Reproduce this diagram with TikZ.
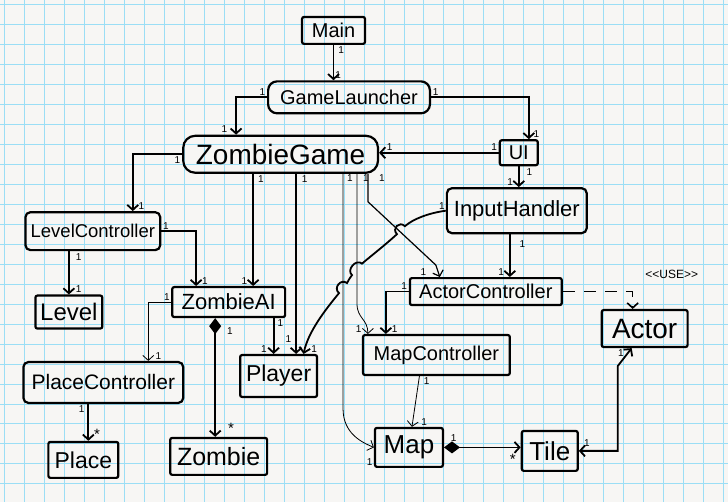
\documentclass[tikz,border=0pt]{standalone}
\usepackage{fontspec}
\setmainfont{Liberation Sans}
\usepackage{tikz}
\usetikzlibrary{positioning, arrows.meta}

\definecolor{gridblue}{RGB}{155,222,245}
\definecolor{paper}{RGB}{247,246,244}

\begin{document}
\begin{tikzpicture}[x=1pt, y=-1pt,
    > = {Straight Barb[length=5pt,width=11pt]},
    cls/.style = {draw, line width=2.2pt, inner sep=0pt, rounded corners=2pt},
    assoc/.style = {->, line width=1.8pt},
    thinassoc/.style = {->, line width=0.8pt},
    comp/.style = {{Diamond[length=16pt,width=12pt]}->, line width=1.8pt},
    mult/.style = {font=\fontsize{10}{12}\selectfont, inner sep=1pt},
    many/.style = {font=\fontsize{15}{15}\selectfont, inner sep=0pt}]

  % squared paper
  \fill[paper] (0,0) rectangle (728,502);
  \foreach \gx in {4,24,...,724}
    \draw[gridblue, line width=0.9pt] (\gx,0) -- (\gx,502);
  \foreach \gy in {4,24,...,484}
    \draw[gridblue, line width=0.9pt] (0,\gy) -- (728,\gy);
  \useasboundingbox (0,0) rectangle (728,502);

  % classes
  \node[cls, minimum width=63pt, minimum height=27pt, font=\fontsize{20}{24}\selectfont] (main) at (333.5,30) {Main};
  \node[cls, rounded corners=9pt, minimum width=162pt, minimum height=32pt, font=\fontsize{20}{24}\selectfont] (gl) at (349,97) {GameLauncher};
  \node[cls, rounded corners=12pt, minimum width=195pt, minimum height=37pt, font=\fontsize{28}{32}\selectfont] (zg) at (280.5,154) {ZombieGame};
  \node[cls, minimum width=38pt, minimum height=25pt, font=\fontsize{20}{24}\selectfont] (ui) at (519,152.5) {UI};
  \node[cls, rounded corners=5pt, minimum width=140pt, minimum height=45pt, font=\fontsize{22}{26}\selectfont] (ih) at (517,210.5) {InputHandler};
  \node[cls, rounded corners=5pt, minimum width=135pt, minimum height=38pt, font=\fontsize{18.5}{22}\selectfont] (lc) at (92.5,231) {LevelController};
  \node[cls, minimum width=67pt, minimum height=33pt, font=\fontsize{24}{28}\selectfont] (lvl) at (68.5,312) {Level};
  \node[cls, minimum width=113pt, minimum height=30pt, font=\fontsize{22}{26}\selectfont] (zai) at (228.5,302) {ZombieAI};
  \node[cls, minimum width=152pt, minimum height=27pt, font=\fontsize{20}{24}\selectfont] (ac) at (486,291.5) {ActorController};
  \node[cls, minimum width=86pt, minimum height=37pt, font=\fontsize{28}{32}\selectfont] (actor) at (645,328.5) {Actor};
  \node[cls, minimum width=147pt, minimum height=40pt, font=\fontsize{20}{24}\selectfont] (mc) at (436.5,355) {MapController};
  \node[cls, minimum width=77pt, minimum height=42pt, font=\fontsize{23}{27}\selectfont] (pl) at (278.5,376) {Player};
  \node[cls, rounded corners=5pt, minimum width=160pt, minimum height=41pt, font=\fontsize{21}{25}\selectfont] (pc) at (103,382.5) {PlaceController};
  \node[cls, minimum width=70pt, minimum height=36pt, font=\fontsize{23}{27}\selectfont] (place) at (83,460) {Place};
  \node[cls, minimum width=97pt, minimum height=37pt, font=\fontsize{25}{29}\selectfont] (zombie) at (218.5,456.5) {Zombie};
  \node[cls, minimum width=68pt, minimum height=39pt, font=\fontsize{26}{30}\selectfont] (map) at (409,447.5) {Map};
  \node[cls, minimum width=56pt, minimum height=40pt, font=\fontsize{26}{30}\selectfont] (tile) at (550,451) {Tile};

  % associations
  \draw[assoc] (main.south) -- (main.south |- gl.north)
    node[mult, at start, anchor=north west, xshift=3pt] (m1) {1}
    node[mult, at end, anchor=south west] (m2) {1};
  \draw[assoc] (gl.west) -| ([xshift=54pt]zg.north west)
    node[mult, at start, anchor=south east] (m3) {1}
    node[mult, at end, anchor=south east, xshift=-7pt] (m4) {1};
  \draw[assoc] (gl.east) -| ([xshift=10pt]ui.north)
    node[mult, at start, anchor=south west] (m5) {1}
    node[mult, at end, anchor=south west, xshift=3pt] (m6) {1};
  \draw[assoc] (ui.west) -- (ui.west -| zg.east)
    node[mult, at start, anchor=south east] (m7) {1}
    node[mult, at end, anchor=south west, xshift=6pt] (m8) {1};
  \draw[assoc] (ui.south) -- (ui.south |- ih.north)
    node[mult, at start, anchor=north west, xshift=6pt] (m9) {1}
    node[mult, at end, anchor=south east, xshift=-4pt] (m10) {1};
  \draw[assoc] (zg.west) -| ([xshift=40pt]lc.north)
    node[mult, at start, anchor=north east] (m11) {1}
    node[mult, at end, anchor=south west, xshift=4pt] (m12) {1};
  \draw[assoc] (lc.south -| lvl.north) -- (lvl.north)
    node[mult, at start, anchor=north west, xshift=5pt] (m13) {1}
    node[mult, at end, anchor=south west, xshift=5pt] (m14) {1};
  \draw[assoc] (lc.east) -| ([xshift=25pt]zai.north west)
    node[mult, at start, anchor=south west] (m15) {1}
    node[mult, at end, anchor=south west, xshift=4pt] (m16) {1};
  \draw[assoc] ([xshift=-27.5pt]zg.south) -- ([xshift=24.5pt]zai.north)
    node[mult, at start, anchor=north west, xshift=3pt] (m17) {1}
    node[mult, at end, anchor=south east, xshift=-4pt] (m18) {1};
  \draw[assoc] ([xshift=15.5pt]zg.south) -- ([xshift=17.5pt]pl.north)
    node[mult, at start, anchor=north west, xshift=4pt] (m19) {1}
    node[mult, at end, anchor=south east, xshift=-3pt, yshift=10pt] (m20) {1};
  \draw[assoc] ([xshift=45pt]zai.south) -- ([xshift=-5pt]pl.north)
    node[mult, at start, anchor=north west, xshift=2pt] (m21) {1}
    node[mult, at end, anchor=south east, xshift=-5pt] (m22) {1};
  % hops where it crosses the lines out of ZombieGame
  \draw[assoc] (ih.west) .. controls (428,213) and (413,219) .. (405,226)
    .. controls (399.4,220.4) and (391.4,228.4) .. (397,234)
    .. controls (385,245) and (372,255) .. (362,263.5)
    .. controls (356,258.3) and (346,269.8) .. (352,275)
    .. controls (349,279) and (348,281) .. (347,283)
    .. controls (340.8,278) and (332.8,288) .. (339,293)
    .. controls (325,310) and (308,332) .. ([xshift=25pt]pl.north)
    node[mult, at end, anchor=south west, xshift=6pt] (m24) {1};
  \node[mult, anchor=south east] (m23) at (ih.west) {1};
  \draw[thinassoc] ([xshift=62.5pt]zg.south) -- ++(0,235)
    .. controls +(0,25) and +(-12,-5) .. (map.west)
    node[mult, at end, anchor=north east, yshift=-10pt] (m26) {1};
  \node[mult, anchor=north west, xshift=3pt] (m25) at ([xshift=62.5pt]zg.south) {1};
  \draw[thinassoc] ([xshift=76.5pt]zg.south) -- ++(0,130)
    .. controls +(0,15) and +(0,-15) .. ([xshift=6pt]mc.north west)
    node[mult, at end, anchor=south east, xshift=-5pt] (m28) {1};
  \node[mult, anchor=north west, xshift=5pt] (m27) at ([xshift=76.5pt]zg.south) {1};
  \draw[assoc, line width=1.2pt] ([xshift=87.5pt]zg.south) -- ++(0,28)
    -- ([xshift=27pt, yshift=12pt]ac.north west) -- ([xshift=31pt]ac.north west)
    node[mult, at end, anchor=south east, xshift=-12pt] (m30) {1};
  \node[mult, anchor=north west, xshift=10pt] (m29) at ([xshift=87.5pt]zg.south) {1};
  \draw[assoc] ([xshift=-7pt]ih.south) -- ([xshift=24pt]ac.north)
    node[mult, at start, anchor=north west, xshift=8pt, yshift=-4pt] (m31) {1}
    node[mult, at end, anchor=south east, xshift=-4pt] (m32) {1};
  \draw[assoc] (ac.west) -| ([xshift=24pt]mc.north west)
    node[mult, at start, anchor=south east] (m33) {1}
    node[mult, at end, anchor=south west, xshift=4pt] (m34) {1};
  \draw[assoc, dash pattern=on 12pt off 9pt, line width=1.6pt] (ac.east) -| ([xshift=-12pt]actor.north)
    node[pos=0.5, anchor=south west, xshift=12pt, yshift=12pt, inner sep=0pt, font=\fontsize{12}{12}\selectfont] (use) {<{}<USE>{}>};
  \draw[thinassoc] ([xshift=-17pt]mc.south) -- ([xshift=3pt]map.north)
    node[mult, at start, anchor=north west, xshift=3pt] (m35) {1}
    node[mult, at end, anchor=south west, xshift=8pt] (m36) {1};
  \draw[thinassoc] (zai.west) -| ([xshift=45pt]pc.north)
    node[mult, at start, anchor=south east] (m37) {1}
    node[mult, at end, anchor=south west, xshift=6pt] (m38) {1};
  \draw[assoc] ([xshift=-15pt]pc.south) -- ([xshift=5pt]place.north)
    node[mult, at start, anchor=north east, xshift=-2pt] (m39) {1}
    node[many, at end, anchor=south west, xshift=5pt] (m40) {*};
  \draw[assoc, <->] (tile.east) -- ++(39,0) -- ++(0,-85) -- ([xshift=-13pt]actor.south)
    node[mult, at end, anchor=north east, xshift=-6pt] (m42) {1};
  \node[mult, anchor=south west, xshift=4pt, yshift=3pt] (m41) at (tile.east) {1};

  % compositions
  \draw[comp] ([xshift=-13.5pt]zai.south) -- ([xshift=-3.5pt]zombie.north)
    node[mult, at start, anchor=north west, xshift=10pt, yshift=-8pt] (m43) {1}
    node[many, at end, anchor=south west, xshift=12pt, yshift=2pt] (m44) {*};
  \draw[comp] (map.east) -- (map.east -| tile.west)
    node[mult, at start, anchor=south west, xshift=5pt, yshift=4pt] (m45) {1}
    node[many, at end, anchor=north east, xshift=-4pt, yshift=-6pt] (m46) {*};
\end{tikzpicture}
\end{document}
